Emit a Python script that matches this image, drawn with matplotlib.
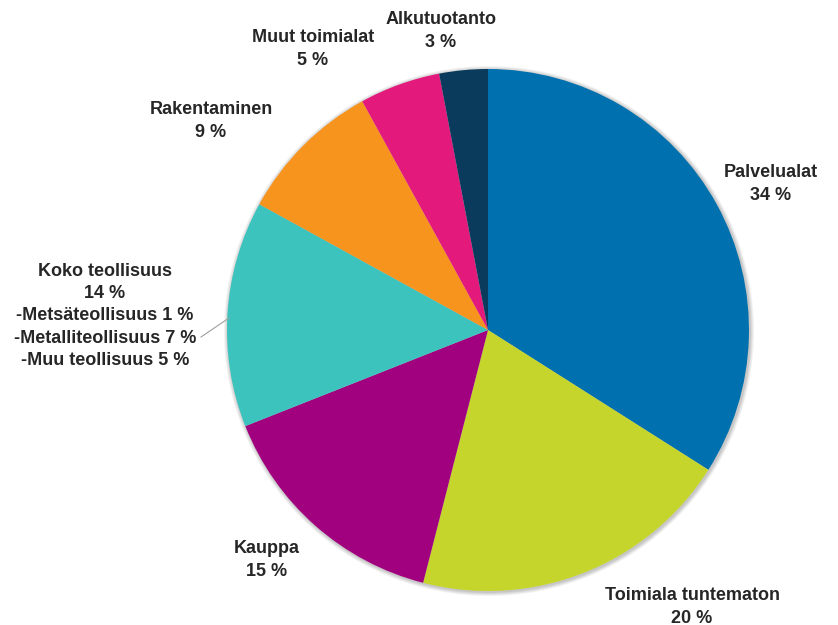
import matplotlib
matplotlib.use("Agg")
import matplotlib.pyplot as plt
from matplotlib.patches import Circle
from matplotlib import font_manager as fm

categories = ["Palvelualat", "Toimiala tuntematon", "Kauppa", "Koko teollisuus",
              "Rakentaminen", "Muut toimialat", "Alkutuotanto"]
values = [34, 20, 15, 14, 9, 5, 3]
label_texts = [
    "Palvelualat\n34 %",
    "Toimiala tuntematon\n20 %",
    "Kauppa\n15 %",
    "Koko teollisuus\n14 %\n-Metsäteollisuus 1 %\n-Metalliteollisuus 7 %\n-Muu teollisuus 5 %",
    "Rakentaminen\n9 %",
    "Muut toimialat\n5 %",
    "Alkutuotanto\n3 %",
]
colors = ["#0071AE", "#C6D52C", "#A1007E", "#3CC3BE", "#F7941E", "#E3197C", "#0B3B5C"]

W, H = 838, 625
fig = plt.figure(figsize=(W / 100, H / 100), dpi=100)
ax = fig.add_axes([0, 0, 1, 1])
ax.set_xlim(0, W)
ax.set_ylim(0, H)
ax.set_aspect("equal")
ax.axis("off")

cx, cy, r = 488, H - 330, 261

for i, a in enumerate([0.05, 0.05, 0.06, 0.07]):
    ax.add_patch(Circle((cx + 1, cy - 1), r + 4 - i, color="black", alpha=a, lw=0, zorder=0))

ax.pie(values, colors=colors, startangle=90, counterclock=False,
       center=(cx, cy), radius=r, frame=True,
       wedgeprops=dict(linewidth=0), normalize=True)
ax.set_xlim(0, W)
ax.set_ylim(0, H)
ax.axis("off")

fp = fm.FontProperties(family="Liberation Sans", weight="bold", size=13)

label_pos = [(771, 184), (692, 607), (267, 560), (105, 316), (211, 121), (313, 49), (441, 31)]
for txt, (x, y) in zip(label_texts, label_pos):
    ax.text(x, H - y, txt, ha="center", va="center", fontproperties=fp,
            color="#262626", linespacing=1.4, multialignment="center")

ax.plot([201, 229], [H - 337, H - 318], color="#A0A0A0", lw=0.8)

fig.savefig("out.png", dpi=100)
